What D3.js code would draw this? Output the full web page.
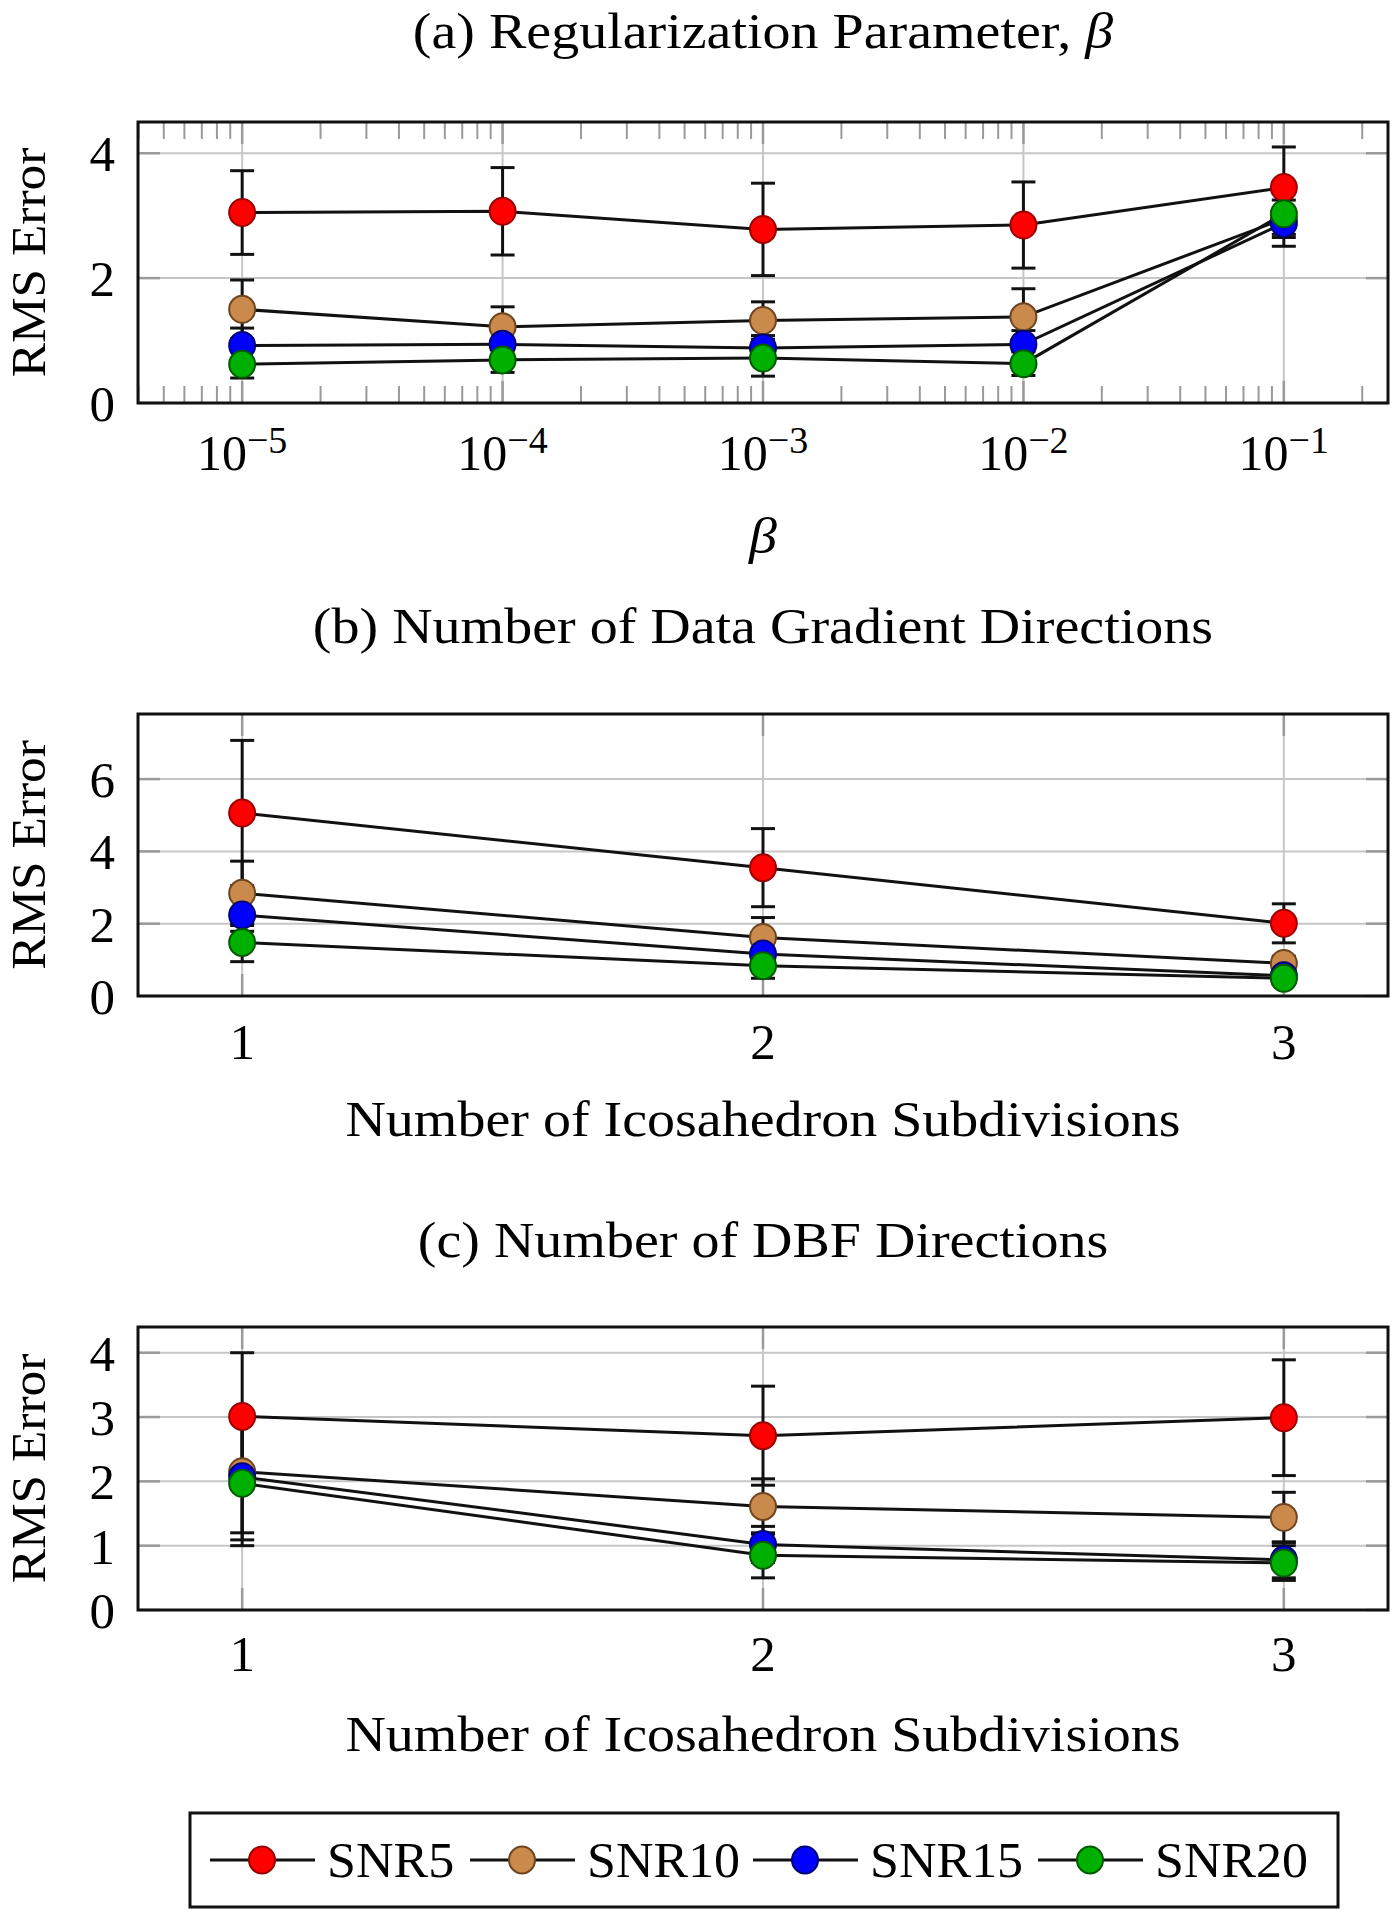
<!DOCTYPE html>
<html><head><meta charset="utf-8">
<script src="https://cdn.jsdelivr.net/npm/d3@7"></script>
<style>body{margin:0;background:#fff}svg{display:block}text{font-family:"Liberation Serif","DejaVu Serif",serif;fill:#000}</style>
</head><body><svg id="c" width="1392" height="1920"></svg>
<script>
// ---------- data ----------
const seriesNames = ["SNR5","SNR10","SNR15","SNR20"];
const seriesFill = ["#ff0000","#c98a4b","#0000ff","#00b000"];
const seriesStroke = ["#9a0000","#6e4520","#00007a","#005a00"];

const betaValues = [1e-5,1e-4,1e-3,1e-2,1e-1];
const betaTickExp = ["−5","−4","−3","−2","−1"];
const subdivisions = [1,2,3];

// panel (a): mean / half error per series
const aMean = [
  [3.05,3.07,2.78,2.85,3.45],
  [1.50,1.22,1.32,1.38,2.95],
  [0.92,0.94,0.88,0.94,2.88],
  [0.62,0.69,0.72,0.63,3.03]];
const aErr = [
  [0.67,0.70,0.74,0.69,0.65],
  [0.47,0.32,0.30,0.45,0.30],
  [0.28,0.22,0.20,0.22,0.18],
  [0.22,0.20,0.29,0.19,0.52]];
// panel (b)
const bMean = [
  [5.06,3.55,2.01],
  [2.84,1.62,0.90],
  [2.24,1.16,0.56],
  [1.48,0.84,0.49]];
const bErr = [
  [2.01,1.08,0.54],
  [0.89,0.55,0.20],
  [0.45,0.30,0.15],
  [0.53,0.35,0.12]];
// panel (c)
const cMean = [
  [3.01,2.71,2.99],
  [2.15,1.61,1.44],
  [2.07,1.02,0.78],
  [1.97,0.85,0.73]];
const cErr = [
  [0.99,0.77,0.90],
  [0.95,0.43,0.39],
  [0.98,0.28,0.28],
  [0.97,0.35,0.27]];

const aYTicks = [0,2,4], bYTicks = [0,2,4,6], cYTicks = [0,1,2,3,4];

// ---------- drawing ----------
const svg = d3.select("#c");
const L = 138, R = 1388;
const STRETCH = 1.12;

function stretchedCentered(g, cx, cy, size, html, k){
  return g.append("text").attr("x",cx).attr("y",cy).attr("dy","0.35em").attr("text-anchor","middle")
    .attr("font-size",size)
    .attr("transform",`translate(${cx},0) scale(${k},1) translate(${-cx},0)`)
    .html(html);
}

function panel(o){
  const g = svg.append("g");
  const x = o.x, y = o.y;
  const [y0,y1] = y.range();
  // grid
  g.selectAll(".gy").data(o.yTicks).join("line")
    .attr("x1",L).attr("x2",R).attr("y1",d=>y(d)).attr("y2",d=>y(d))
    .attr("stroke","#c6c6c6").attr("stroke-width",2);
  g.selectAll(".gx").data(o.xTicks).join("line")
    .attr("y1",y0).attr("y2",y1).attr("x1",d=>x(d)).attr("x2",d=>x(d))
    .attr("stroke","#c6c6c6").attr("stroke-width",2);
  // major tick marks (inside)
  const tl = 22;
  o.yTicks.forEach(t=>{
    g.append("line").attr("x1",L).attr("x2",L+tl).attr("y1",y(t)).attr("y2",y(t)).attr("stroke","#9a9a9a").attr("stroke-width",2.5);
    g.append("line").attr("x1",R-tl).attr("x2",R).attr("y1",y(t)).attr("y2",y(t)).attr("stroke","#9a9a9a").attr("stroke-width",2.5);
  });
  o.xTicks.forEach(t=>{
    g.append("line").attr("y1",y0).attr("y2",y0-tl).attr("x1",x(t)).attr("x2",x(t)).attr("stroke","#9a9a9a").attr("stroke-width",2.5);
    g.append("line").attr("y1",y1).attr("y2",y1+tl).attr("x1",x(t)).attr("x2",x(t)).attr("stroke","#9a9a9a").attr("stroke-width",2.5);
  });
  if (o.minor){
    const [d0,d1] = x.domain();
    const mins = [];
    for (let e=-6;e<=0;e++) for (let m=2;m<=9;m++){ const v=m*Math.pow(10,e); if(v>d0&&v<d1) mins.push(v); }
    mins.forEach(v=>{
      g.append("line").attr("y1",y0).attr("y2",y0-17).attr("x1",x(v)).attr("x2",x(v)).attr("stroke","#9a9a9a").attr("stroke-width",2);
      g.append("line").attr("y1",y1).attr("y2",y1+17).attr("x1",x(v)).attr("x2",x(v)).attr("stroke","#9a9a9a").attr("stroke-width",2);
    });
  }
  // error bars
  const cap = 12;
  o.mean.forEach((ser,si)=>{
    ser.forEach((m,i)=>{
      const xv = x(o.xs[i]), lo = y(m-o.err[si][i]), hi = y(m+o.err[si][i]);
      g.append("line").attr("x1",xv).attr("x2",xv).attr("y1",lo).attr("y2",hi).attr("stroke","#111").attr("stroke-width",3);
      [lo,hi].forEach(yy=>g.append("line").attr("x1",xv-cap).attr("x2",xv+cap).attr("y1",yy).attr("y2",yy).attr("stroke","#111").attr("stroke-width",3));
    });
  });
  // lines
  const line = d3.line().x((d,i)=>x(o.xs[i])).y(d=>y(d));
  o.mean.forEach(ser=>{
    g.append("path").attr("d",line(ser)).attr("fill","none").attr("stroke","#111").attr("stroke-width",3);
  });
  // markers
  o.mean.forEach((ser,si)=>{
    g.selectAll(null).data(ser).join("ellipse")
      .attr("cx",(d,i)=>x(o.xs[i])).attr("cy",d=>y(d)).attr("rx",13).attr("ry",13.5)
      .attr("fill",seriesFill[si]).attr("stroke",seriesStroke[si]).attr("stroke-width",2);
  });
  // frame
  g.append("rect").attr("x",L).attr("y",y1).attr("width",R-L).attr("height",y0-y1)
    .attr("fill","none").attr("stroke","#111").attr("stroke-width",3);
  // y tick labels
  g.selectAll(".yl").data(o.yTicks).join("text")
    .attr("x",115).attr("y",d=>y(d)).attr("dy","0.35em").attr("text-anchor","end")
    .attr("font-size",51).text(d=>d);
  // y axis label
  g.append("text").attr("transform",`translate(${45},${(y0+y1)/2}) rotate(-90) scale(1.07,1)`)
    .attr("text-anchor","middle").attr("font-size",48).text("RMS Error");
  // title
  stretchedCentered(g,(L+R)/2,o.titleY,50,o.title,STRETCH);
  // x label
  stretchedCentered(g,(L+R)/2,o.xLabelY,50,o.xLabel,STRETCH);
  return g;
}

// (a)
const xa = d3.scaleLog().domain([Math.pow(10,-5.4),Math.pow(10,-0.6)]).range([L,R]);
const ya = d3.scaleLinear().domain([0,4.5]).range([403,122]);
const ga = panel({x:xa,y:ya,xs:betaValues,xTicks:betaValues,yTicks:aYTicks,mean:aMean,err:aErr,minor:true,
  title:'(a) Regularization Parameter, <tspan font-style="italic">β</tspan>',titleY:31,
  xLabel:'<tspan font-style="italic">β</tspan>',xLabelY:536});
betaValues.forEach((v,i)=>{
  const t = ga.append("text").attr("x",xa(v)).attr("y",470).attr("text-anchor","middle").attr("font-size",50);
  t.append("tspan").text("10");
  t.append("tspan").attr("dy",-17).attr("font-size",38).text(betaTickExp[i]);
});

// (b)
const xb = d3.scaleLinear().domain([0.8,3.2]).range([L,R]);
const yb = d3.scaleLinear().domain([0,7.8]).range([996,714]);
const gb = panel({x:xb,y:yb,xs:subdivisions,xTicks:subdivisions,yTicks:bYTicks,mean:bMean,err:bErr,
  title:"(b) Number of Data Gradient Directions",titleY:626,
  xLabel:"Number of Icosahedron Subdivisions",xLabelY:1119});
gb.selectAll(".xl").data(subdivisions).join("text").attr("x",d=>xb(d)).attr("y",1041).attr("dy","0.35em")
  .attr("text-anchor","middle").attr("font-size",51).text(d=>d);

// (c)
const xc = d3.scaleLinear().domain([0.8,3.2]).range([L,R]);
const yc = d3.scaleLinear().domain([0,4.4]).range([1610,1327]);
const gc = panel({x:xc,y:yc,xs:subdivisions,xTicks:subdivisions,yTicks:cYTicks,mean:cMean,err:cErr,
  title:"(c) Number of DBF Directions",titleY:1240,
  xLabel:"Number of Icosahedron Subdivisions",xLabelY:1734});
gc.selectAll(".xl").data(subdivisions).join("text").attr("x",d=>xc(d)).attr("y",1653).attr("dy","0.35em")
  .attr("text-anchor","middle").attr("font-size",51).text(d=>d);

// legend
const lg = svg.append("g");
lg.append("rect").attr("x",190).attr("y",1813).attr("width",1148).attr("height",94)
  .attr("fill","#fff").attr("stroke","#111").attr("stroke-width",3);
const legX = [210,470,753,1038];
seriesNames.forEach((n,i)=>{
  const x0 = legX[i];
  lg.append("line").attr("x1",x0).attr("x2",x0+105).attr("y1",1860).attr("y2",1860).attr("stroke","#111").attr("stroke-width",3);
  lg.append("ellipse").attr("cx",x0+52).attr("cy",1860).attr("rx",13).attr("ry",13.5)
    .attr("fill",seriesFill[i]).attr("stroke",seriesStroke[i]).attr("stroke-width",2);
  const tx = x0+117;
  lg.append("text").attr("x",tx).attr("y",1860).attr("dy","0.35em").attr("font-size",50)
    .attr("transform",`translate(${tx},0) scale(1.04,1) translate(${-tx},0)`).text(n);
});
</script></body></html>
